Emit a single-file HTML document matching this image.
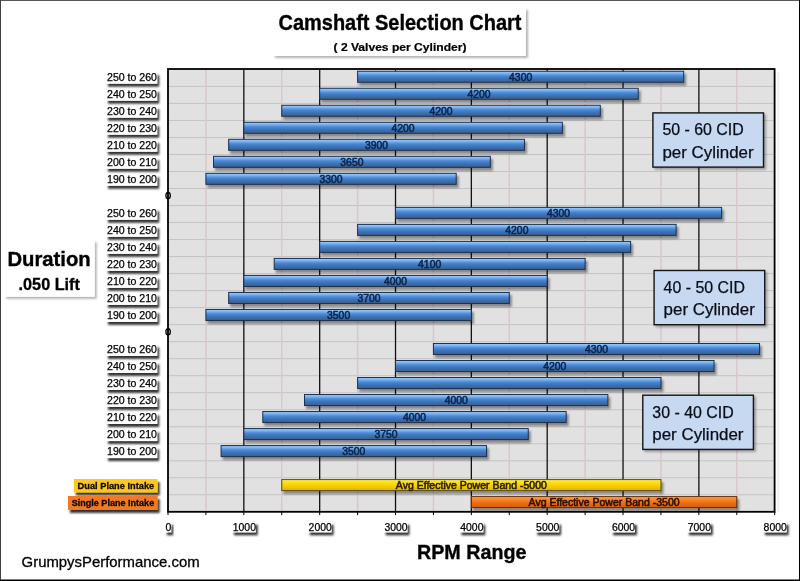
<!DOCTYPE html><html><head><meta charset="utf-8"><style>
html,body{margin:0;padding:0;background:#fff;}
body{width:800px;height:581px;overflow:hidden;position:relative;}
svg{position:absolute;left:0;top:0;display:block;will-change:transform;}
text{font-family:"Liberation Sans", sans-serif;}
</style></head><body>
<svg width="800" height="581" viewBox="0 0 800 581">
<defs>
<linearGradient id="gb" x1="0" y1="0" x2="0" y2="1">
 <stop offset="0" stop-color="#9acbff"/>
 <stop offset="0.15" stop-color="#84bbf6"/>
 <stop offset="0.42" stop-color="#4a88d4"/>
 <stop offset="0.7" stop-color="#3a70b2"/>
 <stop offset="0.9" stop-color="#3d6498"/>
 <stop offset="1" stop-color="#3a5a88"/>
</linearGradient>
<linearGradient id="gy" x1="0" y1="0" x2="0" y2="1">
 <stop offset="0" stop-color="#fff27a"/>
 <stop offset="0.2" stop-color="#ffe21a"/>
 <stop offset="0.6" stop-color="#f6cc00"/>
 <stop offset="1" stop-color="#e0b000"/>
</linearGradient>
<linearGradient id="go" x1="0" y1="0" x2="0" y2="1">
 <stop offset="0" stop-color="#ffb070"/>
 <stop offset="0.2" stop-color="#fa8a2a"/>
 <stop offset="0.6" stop-color="#ec6c10"/>
 <stop offset="1" stop-color="#d05a08"/>
</linearGradient>
<filter id="sh" x="-10%" y="-30%" width="130%" height="190%">
 <feGaussianBlur in="SourceAlpha" stdDeviation="1"/>
 <feOffset dx="1.5" dy="2.5" result="b"/>
 <feComponentTransfer><feFuncA type="linear" slope="0.4"/></feComponentTransfer>
 <feMerge><feMergeNode/><feMergeNode in="SourceGraphic"/></feMerge>
</filter>
<filter id="lsh" x="-20%" y="-50%" width="150%" height="220%">
 <feGaussianBlur in="SourceAlpha" stdDeviation="1.3"/>
 <feOffset dx="2.3" dy="2.6" result="b"/>
 <feComponentTransfer><feFuncA type="linear" slope="0.8"/></feComponentTransfer>
 <feMerge><feMergeNode/><feMergeNode in="SourceGraphic"/></feMerge>
</filter>
<filter id="tsh" x="-10%" y="-30%" width="130%" height="190%">
 <feGaussianBlur in="SourceAlpha" stdDeviation="1"/>
 <feOffset dx="2" dy="2" result="b"/>
 <feComponentTransfer><feFuncA type="linear" slope="0.3"/></feComponentTransfer>
 <feMerge><feMergeNode/><feMergeNode in="SourceGraphic"/></feMerge>
</filter>
</defs>
<rect x="0" y="0" width="800" height="581" fill="#fff"/>
<rect x="273" y="8" width="253" height="48" fill="#fff" filter="url(#tsh)"/>
<text x="278.5" y="30.3" font-size="21.3" font-weight="bold" textLength="243" lengthAdjust="spacingAndGlyphs" fill="#000" stroke="#000" stroke-width="0.35">Camshaft Selection Chart</text>
<text x="333.5" y="50.5" font-size="10.8" font-weight="bold" textLength="133" lengthAdjust="spacingAndGlyphs" fill="#000" stroke="#000" stroke-width="0.2">( 2 Valves per Cylinder)</text>
<rect x="168.00" y="69.00" width="606.60" height="442.80" fill="#e1e1e1"/>
<line x1="168.00" y1="86.42" x2="774.60" y2="86.42" stroke="#c4c4c4" stroke-width="1"/>
<line x1="168.00" y1="103.43" x2="774.60" y2="103.43" stroke="#c4c4c4" stroke-width="1"/>
<line x1="168.00" y1="120.45" x2="774.60" y2="120.45" stroke="#c4c4c4" stroke-width="1"/>
<line x1="168.00" y1="137.46" x2="774.60" y2="137.46" stroke="#c4c4c4" stroke-width="1"/>
<line x1="168.00" y1="154.48" x2="774.60" y2="154.48" stroke="#c4c4c4" stroke-width="1"/>
<line x1="168.00" y1="171.49" x2="774.60" y2="171.49" stroke="#c4c4c4" stroke-width="1"/>
<line x1="168.00" y1="188.50" x2="774.60" y2="188.50" stroke="#c4c4c4" stroke-width="1"/>
<line x1="168.00" y1="205.52" x2="774.60" y2="205.52" stroke="#c4c4c4" stroke-width="1"/>
<line x1="168.00" y1="222.53" x2="774.60" y2="222.53" stroke="#c4c4c4" stroke-width="1"/>
<line x1="168.00" y1="239.55" x2="774.60" y2="239.55" stroke="#c4c4c4" stroke-width="1"/>
<line x1="168.00" y1="256.57" x2="774.60" y2="256.57" stroke="#c4c4c4" stroke-width="1"/>
<line x1="168.00" y1="273.58" x2="774.60" y2="273.58" stroke="#c4c4c4" stroke-width="1"/>
<line x1="168.00" y1="290.60" x2="774.60" y2="290.60" stroke="#c4c4c4" stroke-width="1"/>
<line x1="168.00" y1="307.61" x2="774.60" y2="307.61" stroke="#c4c4c4" stroke-width="1"/>
<line x1="168.00" y1="324.62" x2="774.60" y2="324.62" stroke="#c4c4c4" stroke-width="1"/>
<line x1="168.00" y1="341.64" x2="774.60" y2="341.64" stroke="#c4c4c4" stroke-width="1"/>
<line x1="168.00" y1="358.65" x2="774.60" y2="358.65" stroke="#c4c4c4" stroke-width="1"/>
<line x1="168.00" y1="375.67" x2="774.60" y2="375.67" stroke="#c4c4c4" stroke-width="1"/>
<line x1="168.00" y1="392.69" x2="774.60" y2="392.69" stroke="#c4c4c4" stroke-width="1"/>
<line x1="168.00" y1="409.70" x2="774.60" y2="409.70" stroke="#c4c4c4" stroke-width="1"/>
<line x1="168.00" y1="426.72" x2="774.60" y2="426.72" stroke="#c4c4c4" stroke-width="1"/>
<line x1="168.00" y1="443.73" x2="774.60" y2="443.73" stroke="#c4c4c4" stroke-width="1"/>
<line x1="168.00" y1="460.75" x2="774.60" y2="460.75" stroke="#c4c4c4" stroke-width="1"/>
<line x1="168.00" y1="477.76" x2="774.60" y2="477.76" stroke="#c4c4c4" stroke-width="1"/>
<line x1="168.00" y1="494.77" x2="774.60" y2="494.77" stroke="#c4c4c4" stroke-width="1"/>
<line x1="205.92" y1="69.00" x2="205.92" y2="511.80" stroke="#dbc6ce" stroke-width="1.5"/>
<line x1="281.76" y1="69.00" x2="281.76" y2="511.80" stroke="#dbc6ce" stroke-width="1.5"/>
<line x1="357.60" y1="69.00" x2="357.60" y2="511.80" stroke="#dbc6ce" stroke-width="1.5"/>
<line x1="433.44" y1="69.00" x2="433.44" y2="511.80" stroke="#dbc6ce" stroke-width="1.5"/>
<line x1="509.28" y1="69.00" x2="509.28" y2="511.80" stroke="#dbc6ce" stroke-width="1.5"/>
<line x1="585.12" y1="69.00" x2="585.12" y2="511.80" stroke="#dbc6ce" stroke-width="1.5"/>
<line x1="660.96" y1="69.00" x2="660.96" y2="511.80" stroke="#dbc6ce" stroke-width="1.5"/>
<line x1="736.80" y1="69.00" x2="736.80" y2="511.80" stroke="#dbc6ce" stroke-width="1.5"/>
<line x1="243.84" y1="69.00" x2="243.84" y2="511.80" stroke="#111" stroke-width="1.3"/>
<line x1="319.68" y1="69.00" x2="319.68" y2="511.80" stroke="#111" stroke-width="1.3"/>
<line x1="395.52" y1="69.00" x2="395.52" y2="511.80" stroke="#111" stroke-width="1.3"/>
<line x1="471.36" y1="69.00" x2="471.36" y2="511.80" stroke="#111" stroke-width="1.3"/>
<line x1="547.20" y1="69.00" x2="547.20" y2="511.80" stroke="#111" stroke-width="1.3"/>
<line x1="623.04" y1="69.00" x2="623.04" y2="511.80" stroke="#111" stroke-width="1.3"/>
<line x1="698.88" y1="69.00" x2="698.88" y2="511.80" stroke="#111" stroke-width="1.3"/>
<rect x="357.60" y="71.25" width="326.11" height="11.00" fill="url(#gb)" stroke="#1c3050" stroke-width="1" filter="url(#sh)"/>
<text x="520.66" y="80.70" font-size="10.4" text-anchor="middle" fill="#0c2548" stroke="#0c2548" stroke-width="0.55">4300</text>
<rect x="319.68" y="88.27" width="318.53" height="11.00" fill="url(#gb)" stroke="#1c3050" stroke-width="1" filter="url(#sh)"/>
<text x="478.94" y="97.72" font-size="10.4" text-anchor="middle" fill="#0c2548" stroke="#0c2548" stroke-width="0.55">4200</text>
<rect x="281.76" y="105.28" width="318.53" height="11.00" fill="url(#gb)" stroke="#1c3050" stroke-width="1" filter="url(#sh)"/>
<text x="441.02" y="114.73" font-size="10.4" text-anchor="middle" fill="#0c2548" stroke="#0c2548" stroke-width="0.55">4200</text>
<rect x="243.84" y="122.30" width="318.53" height="11.00" fill="url(#gb)" stroke="#1c3050" stroke-width="1" filter="url(#sh)"/>
<text x="403.10" y="131.75" font-size="10.4" text-anchor="middle" fill="#0c2548" stroke="#0c2548" stroke-width="0.55">4200</text>
<rect x="228.67" y="139.31" width="295.78" height="11.00" fill="url(#gb)" stroke="#1c3050" stroke-width="1" filter="url(#sh)"/>
<text x="376.56" y="148.76" font-size="10.4" text-anchor="middle" fill="#0c2548" stroke="#0c2548" stroke-width="0.55">3900</text>
<rect x="213.50" y="156.33" width="276.82" height="11.00" fill="url(#gb)" stroke="#1c3050" stroke-width="1" filter="url(#sh)"/>
<text x="351.91" y="165.78" font-size="10.4" text-anchor="middle" fill="#0c2548" stroke="#0c2548" stroke-width="0.55">3650</text>
<rect x="205.92" y="173.34" width="250.27" height="11.00" fill="url(#gb)" stroke="#1c3050" stroke-width="1" filter="url(#sh)"/>
<text x="331.06" y="182.79" font-size="10.4" text-anchor="middle" fill="#0c2548" stroke="#0c2548" stroke-width="0.55">3300</text>
<rect x="395.52" y="207.37" width="326.11" height="11.00" fill="url(#gb)" stroke="#1c3050" stroke-width="1" filter="url(#sh)"/>
<text x="558.58" y="216.82" font-size="10.4" text-anchor="middle" fill="#0c2548" stroke="#0c2548" stroke-width="0.55">4300</text>
<rect x="357.60" y="224.38" width="318.53" height="11.00" fill="url(#gb)" stroke="#1c3050" stroke-width="1" filter="url(#sh)"/>
<text x="516.86" y="233.83" font-size="10.4" text-anchor="middle" fill="#0c2548" stroke="#0c2548" stroke-width="0.55">4200</text>
<rect x="319.68" y="241.40" width="310.94" height="11.00" fill="url(#gb)" stroke="#1c3050" stroke-width="1" filter="url(#sh)"/>
<rect x="274.18" y="258.42" width="310.94" height="11.00" fill="url(#gb)" stroke="#1c3050" stroke-width="1" filter="url(#sh)"/>
<text x="429.65" y="267.87" font-size="10.4" text-anchor="middle" fill="#0c2548" stroke="#0c2548" stroke-width="0.55">4100</text>
<rect x="243.84" y="275.43" width="303.36" height="11.00" fill="url(#gb)" stroke="#1c3050" stroke-width="1" filter="url(#sh)"/>
<text x="395.52" y="284.88" font-size="10.4" text-anchor="middle" fill="#0c2548" stroke="#0c2548" stroke-width="0.55">4000</text>
<rect x="228.67" y="292.45" width="280.61" height="11.00" fill="url(#gb)" stroke="#1c3050" stroke-width="1" filter="url(#sh)"/>
<text x="368.98" y="301.90" font-size="10.4" text-anchor="middle" fill="#0c2548" stroke="#0c2548" stroke-width="0.55">3700</text>
<rect x="205.92" y="309.46" width="265.44" height="11.00" fill="url(#gb)" stroke="#1c3050" stroke-width="1" filter="url(#sh)"/>
<text x="338.64" y="318.91" font-size="10.4" text-anchor="middle" fill="#0c2548" stroke="#0c2548" stroke-width="0.55">3500</text>
<rect x="433.44" y="343.49" width="326.11" height="11.00" fill="url(#gb)" stroke="#1c3050" stroke-width="1" filter="url(#sh)"/>
<text x="596.50" y="352.94" font-size="10.4" text-anchor="middle" fill="#0c2548" stroke="#0c2548" stroke-width="0.55">4300</text>
<rect x="395.52" y="360.50" width="318.53" height="11.00" fill="url(#gb)" stroke="#1c3050" stroke-width="1" filter="url(#sh)"/>
<text x="554.78" y="369.95" font-size="10.4" text-anchor="middle" fill="#0c2548" stroke="#0c2548" stroke-width="0.55">4200</text>
<rect x="357.60" y="377.52" width="303.36" height="11.00" fill="url(#gb)" stroke="#1c3050" stroke-width="1" filter="url(#sh)"/>
<rect x="304.51" y="394.54" width="303.36" height="11.00" fill="url(#gb)" stroke="#1c3050" stroke-width="1" filter="url(#sh)"/>
<text x="456.19" y="403.99" font-size="10.4" text-anchor="middle" fill="#0c2548" stroke="#0c2548" stroke-width="0.55">4000</text>
<rect x="262.80" y="411.55" width="303.36" height="11.00" fill="url(#gb)" stroke="#1c3050" stroke-width="1" filter="url(#sh)"/>
<text x="414.48" y="421.00" font-size="10.4" text-anchor="middle" fill="#0c2548" stroke="#0c2548" stroke-width="0.55">4000</text>
<rect x="243.84" y="428.57" width="284.40" height="11.00" fill="url(#gb)" stroke="#1c3050" stroke-width="1" filter="url(#sh)"/>
<text x="386.04" y="438.02" font-size="10.4" text-anchor="middle" fill="#0c2548" stroke="#0c2548" stroke-width="0.55">3750</text>
<rect x="221.09" y="445.58" width="265.44" height="11.00" fill="url(#gb)" stroke="#1c3050" stroke-width="1" filter="url(#sh)"/>
<text x="353.81" y="455.03" font-size="10.4" text-anchor="middle" fill="#0c2548" stroke="#0c2548" stroke-width="0.55">3500</text>
<rect x="281.76" y="479.61" width="379.20" height="11.00" fill="url(#gy)" stroke="#5a4a10" stroke-width="1" filter="url(#sh)"/>
<text x="471.36" y="489.06" font-size="10.4" text-anchor="middle" fill="#2a2000" stroke="#2a2000" stroke-width="0.55" textLength="151.0" lengthAdjust="spacingAndGlyphs">Avg Effective Power Band -5000</text>
<rect x="471.36" y="496.62" width="265.44" height="11.00" fill="url(#go)" stroke="#5a2a08" stroke-width="1" filter="url(#sh)"/>
<text x="604.08" y="506.07" font-size="10.4" text-anchor="middle" fill="#2a1000" stroke="#2a1000" stroke-width="0.55" textLength="151.0" lengthAdjust="spacingAndGlyphs">Avg Effective Power Band -3500</text>
<line x1="778.2" y1="72" x2="778.2" y2="512" stroke="#ececec" stroke-width="1.2"/>
<rect x="168.00" y="69.00" width="606.60" height="442.80" fill="none" stroke="#000" stroke-width="1.8"/>
<line x1="168.00" y1="511.80" x2="168.00" y2="515.10" stroke="#000" stroke-width="1"/>
<line x1="205.92" y1="511.80" x2="205.92" y2="515.10" stroke="#000" stroke-width="1"/>
<line x1="243.84" y1="511.80" x2="243.84" y2="515.10" stroke="#000" stroke-width="1"/>
<line x1="281.76" y1="511.80" x2="281.76" y2="515.10" stroke="#000" stroke-width="1"/>
<line x1="319.68" y1="511.80" x2="319.68" y2="515.10" stroke="#000" stroke-width="1"/>
<line x1="357.60" y1="511.80" x2="357.60" y2="515.10" stroke="#000" stroke-width="1"/>
<line x1="395.52" y1="511.80" x2="395.52" y2="515.10" stroke="#000" stroke-width="1"/>
<line x1="433.44" y1="511.80" x2="433.44" y2="515.10" stroke="#000" stroke-width="1"/>
<line x1="471.36" y1="511.80" x2="471.36" y2="515.10" stroke="#000" stroke-width="1"/>
<line x1="509.28" y1="511.80" x2="509.28" y2="515.10" stroke="#000" stroke-width="1"/>
<line x1="547.20" y1="511.80" x2="547.20" y2="515.10" stroke="#000" stroke-width="1"/>
<line x1="585.12" y1="511.80" x2="585.12" y2="515.10" stroke="#000" stroke-width="1"/>
<line x1="623.04" y1="511.80" x2="623.04" y2="515.10" stroke="#000" stroke-width="1"/>
<line x1="660.96" y1="511.80" x2="660.96" y2="515.10" stroke="#000" stroke-width="1"/>
<line x1="698.88" y1="511.80" x2="698.88" y2="515.10" stroke="#000" stroke-width="1"/>
<line x1="736.80" y1="511.80" x2="736.80" y2="515.10" stroke="#000" stroke-width="1"/>
<line x1="774.72" y1="511.80" x2="774.72" y2="515.10" stroke="#000" stroke-width="1"/>
<ellipse cx="168.1" cy="195.60" rx="2.2" ry="3.2" fill="none" stroke="#000" stroke-width="1.3"/>
<ellipse cx="168.1" cy="331.73" rx="2.2" ry="3.2" fill="none" stroke="#000" stroke-width="1.3"/>
<rect x="106" y="72.10" width="51.2" height="11.6" fill="#fff" filter="url(#lsh)"/>
<text x="157" y="81.10" font-size="10.2" text-anchor="end" textLength="50" lengthAdjust="spacingAndGlyphs" fill="#000" stroke="#000" stroke-width="0.25">250 to 260</text>
<rect x="106" y="89.12" width="51.2" height="11.6" fill="#fff" filter="url(#lsh)"/>
<text x="157" y="98.12" font-size="10.2" text-anchor="end" textLength="50" lengthAdjust="spacingAndGlyphs" fill="#000" stroke="#000" stroke-width="0.25">240 to 250</text>
<rect x="106" y="106.13" width="51.2" height="11.6" fill="#fff" filter="url(#lsh)"/>
<text x="157" y="115.13" font-size="10.2" text-anchor="end" textLength="50" lengthAdjust="spacingAndGlyphs" fill="#000" stroke="#000" stroke-width="0.25">230 to 240</text>
<rect x="106" y="123.14" width="51.2" height="11.6" fill="#fff" filter="url(#lsh)"/>
<text x="157" y="132.14" font-size="10.2" text-anchor="end" textLength="50" lengthAdjust="spacingAndGlyphs" fill="#000" stroke="#000" stroke-width="0.25">220 to 230</text>
<rect x="106" y="140.16" width="51.2" height="11.6" fill="#fff" filter="url(#lsh)"/>
<text x="157" y="149.16" font-size="10.2" text-anchor="end" textLength="50" lengthAdjust="spacingAndGlyphs" fill="#000" stroke="#000" stroke-width="0.25">210 to 220</text>
<rect x="106" y="157.18" width="51.2" height="11.6" fill="#fff" filter="url(#lsh)"/>
<text x="157" y="166.18" font-size="10.2" text-anchor="end" textLength="50" lengthAdjust="spacingAndGlyphs" fill="#000" stroke="#000" stroke-width="0.25">200 to 210</text>
<rect x="106" y="174.19" width="51.2" height="11.6" fill="#fff" filter="url(#lsh)"/>
<text x="157" y="183.19" font-size="10.2" text-anchor="end" textLength="50" lengthAdjust="spacingAndGlyphs" fill="#000" stroke="#000" stroke-width="0.25">190 to 200</text>
<rect x="106" y="208.22" width="51.2" height="11.6" fill="#fff" filter="url(#lsh)"/>
<text x="157" y="217.22" font-size="10.2" text-anchor="end" textLength="50" lengthAdjust="spacingAndGlyphs" fill="#000" stroke="#000" stroke-width="0.25">250 to 260</text>
<rect x="106" y="225.23" width="51.2" height="11.6" fill="#fff" filter="url(#lsh)"/>
<text x="157" y="234.23" font-size="10.2" text-anchor="end" textLength="50" lengthAdjust="spacingAndGlyphs" fill="#000" stroke="#000" stroke-width="0.25">240 to 250</text>
<rect x="106" y="242.25" width="51.2" height="11.6" fill="#fff" filter="url(#lsh)"/>
<text x="157" y="251.25" font-size="10.2" text-anchor="end" textLength="50" lengthAdjust="spacingAndGlyphs" fill="#000" stroke="#000" stroke-width="0.25">230 to 240</text>
<rect x="106" y="259.27" width="51.2" height="11.6" fill="#fff" filter="url(#lsh)"/>
<text x="157" y="268.27" font-size="10.2" text-anchor="end" textLength="50" lengthAdjust="spacingAndGlyphs" fill="#000" stroke="#000" stroke-width="0.25">220 to 230</text>
<rect x="106" y="276.28" width="51.2" height="11.6" fill="#fff" filter="url(#lsh)"/>
<text x="157" y="285.28" font-size="10.2" text-anchor="end" textLength="50" lengthAdjust="spacingAndGlyphs" fill="#000" stroke="#000" stroke-width="0.25">210 to 220</text>
<rect x="106" y="293.30" width="51.2" height="11.6" fill="#fff" filter="url(#lsh)"/>
<text x="157" y="302.30" font-size="10.2" text-anchor="end" textLength="50" lengthAdjust="spacingAndGlyphs" fill="#000" stroke="#000" stroke-width="0.25">200 to 210</text>
<rect x="106" y="310.31" width="51.2" height="11.6" fill="#fff" filter="url(#lsh)"/>
<text x="157" y="319.31" font-size="10.2" text-anchor="end" textLength="50" lengthAdjust="spacingAndGlyphs" fill="#000" stroke="#000" stroke-width="0.25">190 to 200</text>
<rect x="106" y="344.34" width="51.2" height="11.6" fill="#fff" filter="url(#lsh)"/>
<text x="157" y="353.34" font-size="10.2" text-anchor="end" textLength="50" lengthAdjust="spacingAndGlyphs" fill="#000" stroke="#000" stroke-width="0.25">250 to 260</text>
<rect x="106" y="361.35" width="51.2" height="11.6" fill="#fff" filter="url(#lsh)"/>
<text x="157" y="370.35" font-size="10.2" text-anchor="end" textLength="50" lengthAdjust="spacingAndGlyphs" fill="#000" stroke="#000" stroke-width="0.25">240 to 250</text>
<rect x="106" y="378.37" width="51.2" height="11.6" fill="#fff" filter="url(#lsh)"/>
<text x="157" y="387.37" font-size="10.2" text-anchor="end" textLength="50" lengthAdjust="spacingAndGlyphs" fill="#000" stroke="#000" stroke-width="0.25">230 to 240</text>
<rect x="106" y="395.39" width="51.2" height="11.6" fill="#fff" filter="url(#lsh)"/>
<text x="157" y="404.39" font-size="10.2" text-anchor="end" textLength="50" lengthAdjust="spacingAndGlyphs" fill="#000" stroke="#000" stroke-width="0.25">220 to 230</text>
<rect x="106" y="412.40" width="51.2" height="11.6" fill="#fff" filter="url(#lsh)"/>
<text x="157" y="421.40" font-size="10.2" text-anchor="end" textLength="50" lengthAdjust="spacingAndGlyphs" fill="#000" stroke="#000" stroke-width="0.25">210 to 220</text>
<rect x="106" y="429.42" width="51.2" height="11.6" fill="#fff" filter="url(#lsh)"/>
<text x="157" y="438.42" font-size="10.2" text-anchor="end" textLength="50" lengthAdjust="spacingAndGlyphs" fill="#000" stroke="#000" stroke-width="0.25">200 to 210</text>
<rect x="106" y="446.43" width="51.2" height="11.6" fill="#fff" filter="url(#lsh)"/>
<text x="157" y="455.43" font-size="10.2" text-anchor="end" textLength="50" lengthAdjust="spacingAndGlyphs" fill="#000" stroke="#000" stroke-width="0.25">190 to 200</text>
<rect x="73.8" y="479" width="83.9" height="13.5" fill="#fcc81a" filter="url(#lsh)"/>
<text x="77.6" y="488.8" font-size="9.4" font-weight="bold" textLength="76.6" lengthAdjust="spacingAndGlyphs" fill="#100800" stroke="#100800" stroke-width="0.3">Dual Plane Intake</text>
<rect x="68" y="496" width="89.7" height="14" fill="#f07a22" filter="url(#lsh)"/>
<text x="71.7" y="505.8" font-size="9.4" font-weight="bold" textLength="82.5" lengthAdjust="spacingAndGlyphs" fill="#100400" stroke="#100400" stroke-width="0.3">Single Plane Intake</text>
<rect x="652.90" y="112.90" width="110.6" height="54.2" fill="#c6d9f1" stroke="#151515" stroke-width="1.4" filter="url(#tsh)"/>
<text x="662.40" y="135.20" font-size="15.8" textLength="81.4" lengthAdjust="spacingAndGlyphs" fill="#0a0e18" stroke="#0a0e18" stroke-width="0.25">50 - 60 CID</text>
<text x="662.40" y="157.80" font-size="15.8" textLength="91.2" lengthAdjust="spacingAndGlyphs" fill="#0a0e18" stroke="#0a0e18" stroke-width="0.25">per Cylinder</text>
<rect x="654.10" y="270.50" width="110.6" height="54.2" fill="#c6d9f1" stroke="#151515" stroke-width="1.4" filter="url(#tsh)"/>
<text x="663.60" y="292.80" font-size="15.8" textLength="81.4" lengthAdjust="spacingAndGlyphs" fill="#0a0e18" stroke="#0a0e18" stroke-width="0.25">40 - 50 CID</text>
<text x="663.60" y="315.40" font-size="15.8" textLength="91.2" lengthAdjust="spacingAndGlyphs" fill="#0a0e18" stroke="#0a0e18" stroke-width="0.25">per Cylinder</text>
<rect x="642.80" y="395.20" width="110.6" height="54.2" fill="#c6d9f1" stroke="#151515" stroke-width="1.4" filter="url(#tsh)"/>
<text x="652.30" y="417.50" font-size="15.8" textLength="81.4" lengthAdjust="spacingAndGlyphs" fill="#0a0e18" stroke="#0a0e18" stroke-width="0.25">30 - 40 CID</text>
<text x="652.30" y="440.10" font-size="15.8" textLength="91.2" lengthAdjust="spacingAndGlyphs" fill="#0a0e18" stroke="#0a0e18" stroke-width="0.25">per Cylinder</text>
<rect x="164.80" y="521.80" width="6.40" height="10.5" fill="#fff" filter="url(#lsh)"/>
<text x="168.50" y="531.2" font-size="10.4" text-anchor="middle" textLength="5.8" lengthAdjust="spacingAndGlyphs" fill="#000" stroke="#000" stroke-width="0.25">0</text>
<rect x="231.94" y="521.80" width="23.80" height="10.5" fill="#fff" filter="url(#lsh)"/>
<text x="244.34" y="531.2" font-size="10.4" text-anchor="middle" textLength="23.2" lengthAdjust="spacingAndGlyphs" fill="#000" stroke="#000" stroke-width="0.25">1000</text>
<rect x="307.78" y="521.80" width="23.80" height="10.5" fill="#fff" filter="url(#lsh)"/>
<text x="320.18" y="531.2" font-size="10.4" text-anchor="middle" textLength="23.2" lengthAdjust="spacingAndGlyphs" fill="#000" stroke="#000" stroke-width="0.25">2000</text>
<rect x="383.62" y="521.80" width="23.80" height="10.5" fill="#fff" filter="url(#lsh)"/>
<text x="396.02" y="531.2" font-size="10.4" text-anchor="middle" textLength="23.2" lengthAdjust="spacingAndGlyphs" fill="#000" stroke="#000" stroke-width="0.25">3000</text>
<rect x="459.46" y="521.80" width="23.80" height="10.5" fill="#fff" filter="url(#lsh)"/>
<text x="471.86" y="531.2" font-size="10.4" text-anchor="middle" textLength="23.2" lengthAdjust="spacingAndGlyphs" fill="#000" stroke="#000" stroke-width="0.25">4000</text>
<rect x="535.30" y="521.80" width="23.80" height="10.5" fill="#fff" filter="url(#lsh)"/>
<text x="547.70" y="531.2" font-size="10.4" text-anchor="middle" textLength="23.2" lengthAdjust="spacingAndGlyphs" fill="#000" stroke="#000" stroke-width="0.25">5000</text>
<rect x="611.14" y="521.80" width="23.80" height="10.5" fill="#fff" filter="url(#lsh)"/>
<text x="623.54" y="531.2" font-size="10.4" text-anchor="middle" textLength="23.2" lengthAdjust="spacingAndGlyphs" fill="#000" stroke="#000" stroke-width="0.25">6000</text>
<rect x="686.98" y="521.80" width="23.80" height="10.5" fill="#fff" filter="url(#lsh)"/>
<text x="699.38" y="531.2" font-size="10.4" text-anchor="middle" textLength="23.2" lengthAdjust="spacingAndGlyphs" fill="#000" stroke="#000" stroke-width="0.25">7000</text>
<rect x="762.82" y="521.80" width="23.80" height="10.5" fill="#fff" filter="url(#lsh)"/>
<text x="775.22" y="531.2" font-size="10.4" text-anchor="middle" textLength="23.2" lengthAdjust="spacingAndGlyphs" fill="#000" stroke="#000" stroke-width="0.25">8000</text>
<rect x="4.2" y="240.5" width="90.5" height="56.3" fill="#fff" filter="url(#tsh)"/>
<text x="7.4" y="266.4" font-size="19.6" font-weight="bold" textLength="83.3" lengthAdjust="spacingAndGlyphs" fill="#000" stroke="#000" stroke-width="0.35">Duration</text>
<text x="18.6" y="290.4" font-size="16" font-weight="bold" textLength="61.3" lengthAdjust="spacingAndGlyphs" fill="#000" stroke="#000" stroke-width="0.3">.050 Lift</text>
<text x="417" y="559" font-size="19.3" font-weight="bold" textLength="109.4" lengthAdjust="spacingAndGlyphs" fill="#000" stroke="#000" stroke-width="0.35">RPM Range</text>
<text x="21.6" y="567.1" font-size="14.6" textLength="178" lengthAdjust="spacingAndGlyphs" fill="#000" stroke="#000" stroke-width="0.3">GrumpysPerformance.com</text>
<line x1="0" y1="0.5" x2="800" y2="0.5" stroke="#585858" stroke-width="1"/>
<line x1="0.5" y1="0" x2="0.5" y2="581" stroke="#404040" stroke-width="1"/>
<line x1="799.5" y1="0" x2="799.5" y2="581" stroke="#000" stroke-width="1"/>
<line x1="0" y1="580.25" x2="800" y2="580.25" stroke="#000" stroke-width="1.5"/>
</svg></body></html>
